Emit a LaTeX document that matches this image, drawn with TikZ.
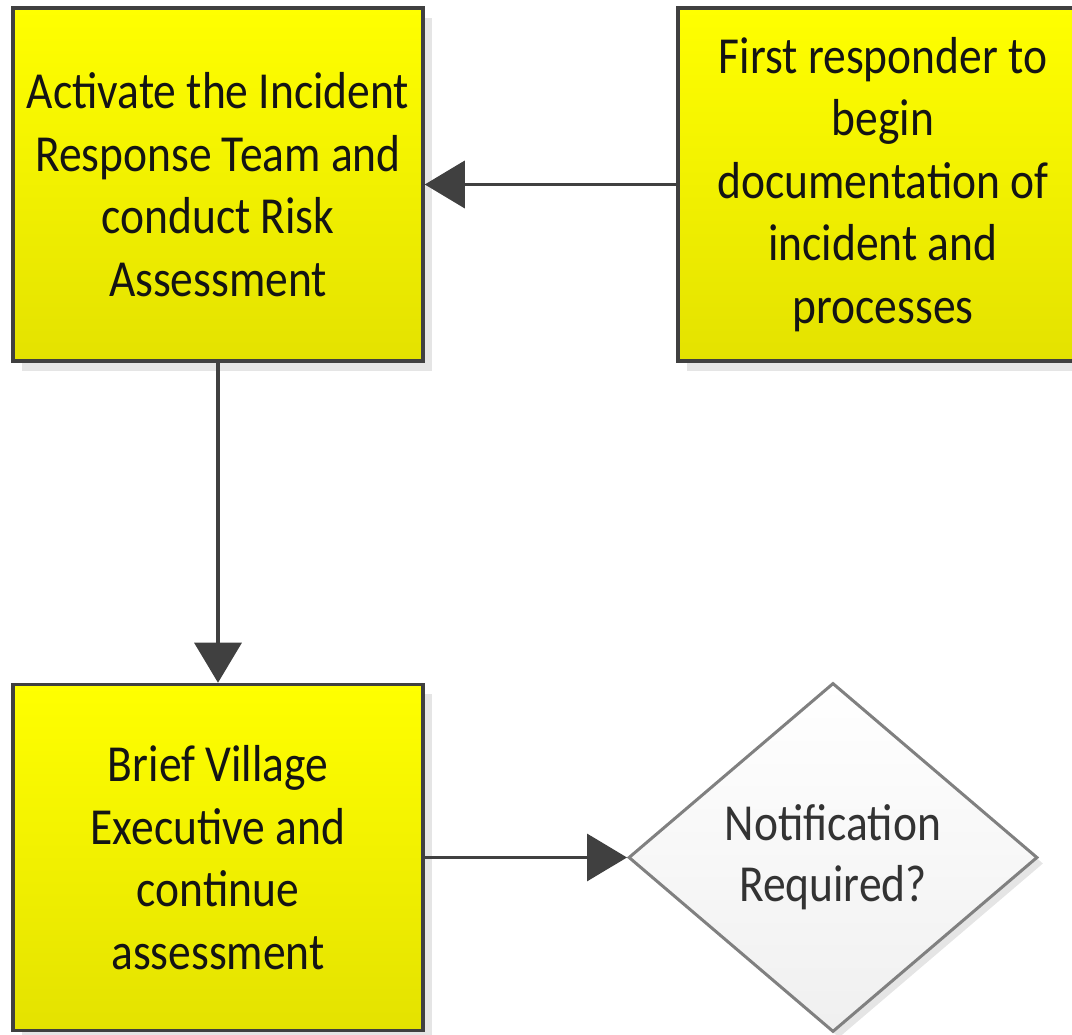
\documentclass[tikz,border=0pt]{standalone}
\usepackage{fontspec}
\newfontfamily\boxfont[FakeStretch=0.875]{Carlito}
\usetikzlibrary{arrows.meta,shapes.geometric,shadows}
\definecolor{edge}{HTML}{404040}
\definecolor{ytop}{HTML}{FFFF00}
\definecolor{ybot}{HTML}{E4E200}
\definecolor{shade}{HTML}{E5E5E5}
\definecolor{dedge}{HTML}{808080}
\begin{document}
\begin{tikzpicture}[x=1pt,y=1pt,
  procbox/.style={rectangle, draw=edge, line width=3.5pt, top color=ytop, bottom color=ybot,
    minimum width=410pt, minimum height=353pt, inner sep=0pt, align=center, text=black!92,
    font=\boxfont\fontsize{52}{62.5}\selectfont,
    drop shadow={shadow xshift=9pt, shadow yshift=-10pt, fill=shade, opacity=1}},
  decision/.style={diamond, draw=dedge, line width=3pt, top color=white, bottom color=black!6,
    minimum width=409pt, minimum height=349pt, aspect=1.17, inner sep=0pt, align=center,
    text=black!80, font=\boxfont\fontsize{52}{61}\selectfont,
    drop shadow={shadow xshift=6pt, shadow yshift=-6pt, fill=shade, opacity=1}},
  flow/.style={draw=edge, line width=3.5pt, -{Triangle[length=40pt,width=47pt]}}]
\useasboundingbox (0,0) rectangle (1072,1035);
\clip (0,0) rectangle (1072,1035);
\node[procbox] (act) at (218,850.5) {Activate the Incident\\Response Team and\\conduct Risk\\Assessment};
\node[procbox] (first) at (883,850.5) {First responder to\\begin\\documentation of\\incident and\\processes};
\node[procbox, minimum height=346pt] (brief) at (218,177.5) {Brief Village\\Executive and\\continue\\assessment};
\node[decision] (notif) at (833,177.5) {Notification\\Required?};
\draw[flow] (first.west) -- (act.east);
\draw[flow] (act.south) -- (brief.north);
\draw[flow] (brief.east) -- (notif.west);
\end{tikzpicture}
\end{document}
